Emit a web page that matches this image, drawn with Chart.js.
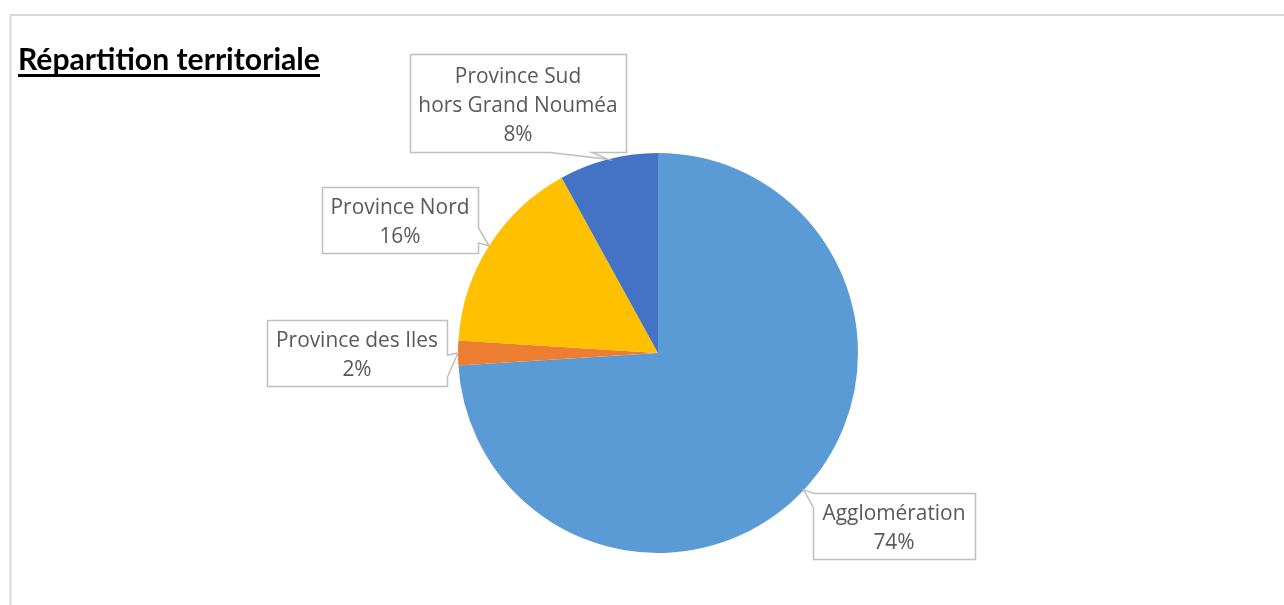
<!DOCTYPE html>
<html lang="fr">
<head>
<meta charset="utf-8">
<title>Répartition territoriale</title>
<script src="https://cdn.jsdelivr.net/npm/chart.js@4/dist/chart.umd.min.js"></script>
<style>
    html, body { margin: 0; padding: 0; background: #ffffff; }
    #zone { position: relative; width: 1284px; height: 605px; }
</style>
</head>
<body>
<div id="zone"><canvas id="graficoRepartition" width="1284" height="605"></canvas></div>
<script>
"use strict";

/********************************************************************
 * Données
 ********************************************************************/
const titre = "Répartition territoriale";

const categories = ["Agglomération", "Province des Iles", "Province Nord", "Province Sud hors Grand Nouméa"];

const lignesEtiquettes = [
    ["Agglomération"],
    ["Province des Iles"],
    ["Province Nord"],
    ["Province Sud", "hors Grand Nouméa"]
];

const valeurs = [74, 2, 16, 8];

const couleurs = ["#5B9BD5", "#ED7D31", "#FFC000", "#4472C4"];

/********************************************************************
 * Mise en page des bulles (position des cadres)
 ********************************************************************/
const bulles = [
    { x: 813, y: 493, w: 162, h: 66, cote: "gauche", b1: 493, b2: 508 },
    { x: 267, y: 320, w: 180, h: 66, cote: "droite", b1: 355, b2: 377 },
    { x: 322, y: 187, w: 156, h: 66, cote: "droite", b1: 228, b2: 243 },
    { x: 410, y: 54,  w: 216, h: 98, cote: "bas",    b1: 550, b2: 592 }
];

const POLICE_TITRE = "Lato, 'Open Sans', sans-serif";
const POLICE = "'Open Sans', Lato, sans-serif";

/********************************************************************
 * Cadre + titre
 ********************************************************************/
const pluginCadre = {
    id: "cadre",
    beforeDraw(chart) {
        const ctx = chart.ctx;
        ctx.save();
        ctx.fillStyle = "#ffffff";
        ctx.fillRect(0, 0, chart.width, chart.height);
        ctx.strokeStyle = "#d9d9d9";
        ctx.lineWidth = 2;
        ctx.strokeRect(10.5, 15, chart.width + 50, chart.height + 50);

        // titre souligné, ajusté à la largeur d'origine
        let taille = 26;
        ctx.font = "bold " + taille + "px " + POLICE_TITRE;
        const largeur = ctx.measureText(titre).width;
        taille = taille * 302 / largeur;
        ctx.font = "bold " + taille.toFixed(2) + "px " + POLICE_TITRE;
        ctx.fillStyle = "#000000";
        ctx.textBaseline = "alphabetic";
        ctx.textAlign = "left";
        ctx.fillText(titre, 18, 70);
        ctx.fillRect(18, 74, 302, 3);
        ctx.restore();
    }
};

/********************************************************************
 * Bulles d'étiquettes
 ********************************************************************/
const pluginBulles = {
    id: "bulles",
    afterDatasetsDraw(chart) {
        const ctx = chart.ctx;
        const arcs = chart.getDatasetMeta(0).data;
        const total = valeurs.reduce((a, b) => a + b, 0);

        ctx.save();

        // taille de police ajustée sur « Agglomération » (≈143 px)
        ctx.font = "18px " + POLICE;
        const taille = 18 * 143 / ctx.measureText(categories[0]).width;

        arcs.forEach((arc, i) => {
            const p = arc.getProps(["x", "y", "startAngle", "endAngle", "outerRadius"], true);
            const milieu = (p.startAngle + p.endAngle) / 2;
            const px = p.x + Math.cos(milieu) * p.outerRadius;
            const py = p.y + Math.sin(milieu) * p.outerRadius;

            const b = bulles[i];
            const g = b.x + 0.5, d = b.x + b.w + 0.5, h = b.y + 0.5, bas = b.y + b.h + 0.5;

            ctx.beginPath();
            ctx.moveTo(g, h);
            ctx.lineTo(d, h);
            if (b.cote === "droite") {
                ctx.lineTo(d, b.b1);
                ctx.lineTo(px, py);
                ctx.lineTo(d, b.b2);
            }
            ctx.lineTo(d, bas);
            if (b.cote === "bas") {
                ctx.lineTo(b.b2, bas);
                ctx.lineTo(px, py);
                ctx.lineTo(b.b1, bas);
            }
            ctx.lineTo(g, bas);
            if (b.cote === "gauche") {
                ctx.lineTo(g, b.b2);
                ctx.lineTo(px, py);
                ctx.lineTo(g, b.b1);
            }
            ctx.closePath();
            ctx.fillStyle = "#ffffff";
            ctx.fill();
            ctx.strokeStyle = "#bfbfbf";
            ctx.lineWidth = 1.5;
            ctx.lineJoin = "miter";
            ctx.stroke();

            const lignes = lignesEtiquettes[i].concat([Math.round(valeurs[i] / total * 100) + "%"]);
            const interligne = 29;
            const cx = b.x + b.w / 2;
            const cy = b.y + b.h / 2 + 3;
            ctx.font = taille.toFixed(2) + "px " + POLICE;
            ctx.fillStyle = "#595959";
            ctx.textAlign = "center";
            ctx.textBaseline = "middle";
            lignes.forEach((t, k) => {
                ctx.fillText(t, cx, cy + (k - (lignes.length - 1) / 2) * interligne);
            });
        });

        ctx.restore();
    }
};

/********************************************************************
 * Graphique
 ********************************************************************/
new Chart(document.getElementById("graficoRepartition"), {
    type: "pie",
    data: {
        labels: categories,
        datasets: [{
            data: valeurs,
            backgroundColor: couleurs,
            borderWidth: 0
        }]
    },
    options: {
        responsive: false,
        animation: false,
        layout: {
            padding: { top: 153, bottom: 52, left: 458, right: 426 }
        },
        plugins: {
            legend: { display: false },
            tooltip: { enabled: false },
            title: { display: false }
        }
    },
    plugins: [pluginCadre, pluginBulles]
});
</script>
</body>
</html>
